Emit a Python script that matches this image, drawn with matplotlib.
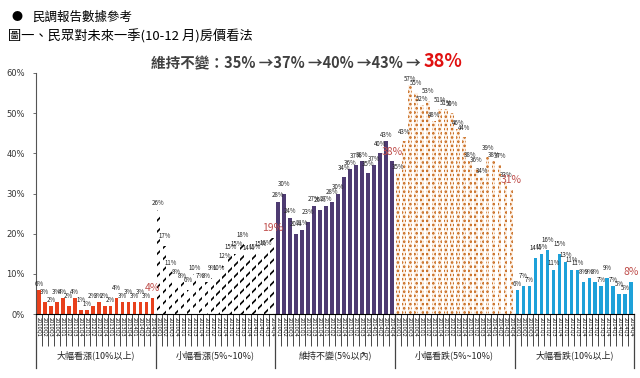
import matplotlib.pyplot as plt
import numpy as np

plt.rcParams['font.family'] = ['Noto Sans CJK TC', 'DejaVu Sans']
plt.rcParams['hatch.linewidth'] = 1.2

# survey share per quarter (%), one list per answer group
up_big = [6, 3, 2, 3, 4, 2, 4, 1, 1, 2, 3, 2, 2, 4, 3, 3, 3, 3, 3, 4]
up_small = [26, 17, 11, 8, 8, 6, 10, 7, 8, 9, 10, 12, 15, 15, 18, 14, 15, 15, 16, 19]
flat = [28, 30, 24, 20, 21, 23, 27, 26, 27, 28, 30, 34, 36, 37, 38, 35, 37, 40, 43, 38]
down_small = [35, 43, 57, 55, 52, 53, 48, 51, 51, 50, 46, 44, 38, 36, 34, 39, 38, 37, 33, 31]
down_big = [6, 7, 7, 14, 15, 16, 11, 15, 13, 11, 11, 8, 9, 8, 7, 9, 7, 5, 5, 8]

group_names = ["大幅看漲(10%以上)", "小幅看漲(5%~10%)", "維持不變(5%以內)",
               "小幅看跌(5%~10%)", "大幅看跌(10%以上)"]
years = [2010, 2011, 2012, 2013, 2014]
quarters = ["Q1", "Q2", "Q3", "Q4"]
quarter_labels = [f"{y}{q}" for y in years for q in quarters]

groups = [up_big, up_small, flat, down_small, down_big]
styles = [
    dict(color="#e8401c", edgecolor="#e8401c", hatch=None),
    dict(color="white", edgecolor="black", hatch="///"),
    dict(color="#4e3b72", edgecolor="#4e3b72", hatch=None),
    dict(color="#fdf3ea", edgecolor="#c4600e", hatch="...."),
    dict(color="#1ea1d9", edgecolor="#1ea1d9", hatch=None),
]

fig = plt.figure(figsize=(6.4, 3.78), dpi=100)
ax = fig.add_axes([0.056, 0.169, 0.935, 0.638])

n = len(up_big)
all_labels = []
for g, (vals, st) in enumerate(zip(groups, styles)):
    x = np.arange(n) + g * n
    ax.bar(x, np.array(vals) / 100, width=0.62, color=st["color"],
           edgecolor=st["edgecolor"], hatch=st["hatch"], linewidth=0)
    for i, v in enumerate(vals):
        if i == n - 1:
            ax.text(x[i], v / 100 + 0.012, f"{v}%", ha="center", va="bottom",
                    fontsize=7.5, color="#c0504d")
        else:
            # nudge every other label up a little, as in the source chart
            dy = 0.006 if i % 2 == 0 else 0.014
            ax.text(x[i], v / 100 + dy, f"{v}%", ha="center", va="bottom",
                    fontsize=4.4, color="#222222")
    all_labels += quarter_labels

total = n * len(groups)
ax.set_xlim(-0.5, total - 0.5)
ax.set_ylim(0, 0.6)
ax.set_yticks(np.arange(0, 0.61, 0.1))
ax.set_yticklabels([f"{int(round(t * 100))}%" for t in np.arange(0, 0.61, 0.1)],
                   fontsize=6, color="#333333", family="DejaVu Sans")
ax.tick_params(axis="y", length=2, width=0.6, color="#555555", pad=6)

ax.set_xticks(np.arange(total))
ax.set_xticklabels(all_labels, rotation=270, fontsize=3.6, family="DejaVu Sans")
ax.tick_params(axis="x", which="major", length=0, pad=2)
ax.set_xticks(np.arange(total + 1) - 0.5, minor=True)
ax.tick_params(axis="x", which="minor", length=23, width=0.5, color="black")

for s in ["top", "right"]:
    ax.spines[s].set_visible(False)
ax.spines["left"].set_color("#555555")
ax.spines["left"].set_linewidth(0.8)
ax.spines["bottom"].set_linewidth(0.8)

# group separators and names below the axis
trans = ax.get_xaxis_transform()
for g in range(len(groups) + 1):
    ax.plot([g * n - 0.5, g * n - 0.5], [0, -0.225], transform=trans,
            color="#444444", lw=0.9, clip_on=False)
for g, name in enumerate(group_names):
    ax.text(g * n + n / 2 - 0.5, -0.17, name, transform=trans, ha="center",
            va="center", fontsize=6.5, color="#222222")

fig.text(0.018, 0.955, "●", fontsize=8, va="center", ha="left")
fig.text(0.05, 0.955, "民調報告數據參考", fontsize=9, va="center", ha="left")
fig.text(0.012, 0.905, "圖一、民眾對未來一季(10-12 月)房價看法", fontsize=9.5,
         va="center", ha="left")
fig.text(0.658, 0.833, "維持不變：35% →37% →40% →43% →", fontsize=10.5,
         fontweight="bold", color="#404040", ha="right", va="center")
fig.text(0.662, 0.836, "38%", fontsize=13, fontweight="bold", color="#e01010",
         ha="left", va="center")

fig.savefig("out.png", dpi=100)
